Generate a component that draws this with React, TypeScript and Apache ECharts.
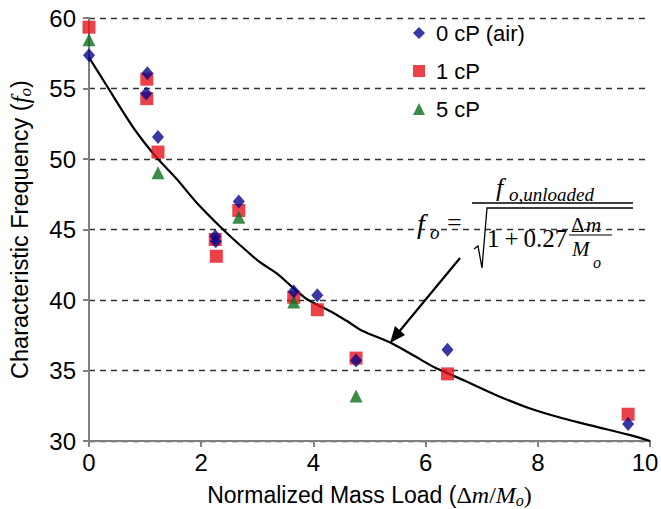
import React, { useEffect, useRef } from "react";
import * as echarts from "echarts";

const xTicks = [0, 2, 4, 6, 8, 10];
const yTicks = [30, 35, 40, 45, 50, 55, 60];

const air0cP: [number, number][] = [
  [0, 57.36], [1.04, 56.08], [1.02, 54.64], [1.23, 51.56], [2.25, 44.52], [2.26, 44.17],
  [2.67, 46.99], [3.65, 40.61], [4.07, 40.33], [4.76, 35.71], [6.39, 36.47], [9.61, 31.21],
];
const water1cP: [number, number][] = [
  [0, 59.35], [1.03, 55.66], [1.03, 54.28], [1.23, 50.49], [2.25, 44.29], [2.27, 43.1],
  [2.67, 46.35], [3.65, 40.19], [4.07, 39.31], [4.76, 35.88], [6.39, 34.76], [9.61, 31.9],
];
const fluid5cP: [number, number][] = [
  [0, 58.45], [1.23, 49.03], [2.67, 45.87], [3.65, 39.86], [4.76, 33.2],
];
const fitCurve: [number, number][] = [
  [0, 57.2], [0.3, 55.3], [0.76, 52.4], [1.0, 51.1], [1.23, 50.0], [1.56, 48.6],
  [1.92, 46.9], [2.39, 45.0], [2.69, 43.9], [3.04, 42.7], [3.34, 41.9], [3.63, 40.9],
  [3.87, 40.1], [4.05, 39.7], [4.35, 39.1], [4.64, 38.4], [4.88, 37.8], [5.36, 37.0],
  [5.77, 36.1], [6.19, 35.16], [6.66, 34.34], [7.25, 33.27], [7.85, 32.32], [8.44, 31.61],
  [9.03, 31.02], [9.63, 30.43], [10, 30.0],
];

const SANS = "'Liberation Sans', Arial, sans-serif";
const SERIF = "'Liberation Serif', 'Times New Roman', serif";

export default function App() {
  const ref = useRef<HTMLDivElement>(null);
  useEffect(() => {
    if (!ref.current) return;
    const chart = echarts.init(ref.current, undefined, { renderer: "svg" });
    const eqText = (x: number, y: number, text: string, size: number, italic = true) => ({
      type: "text",
      x,
      y,
      style: {
        text,
        fontSize: size,
        fontFamily: SERIF,
        fontStyle: italic ? "italic" : "normal",
        fill: "#000",
        verticalAlign: "middle",
      },
      z: 100,
    });
    chart.setOption({
      animation: false,
      backgroundColor: "#fff",
      grid: { left: 89, right: 11, top: 18, bottom: 68, containLabel: false, outerBoundsMode: "none" },
      legend: {
        orient: "vertical",
        left: 408,
        top: 17,
        itemWidth: 12,
        itemHeight: 12,
        itemGap: 16,
        data: ["0 cP (air)", "1 cP", "5 cP"],
        textStyle: { fontSize: 22, fontFamily: SANS, color: "#000", padding: [0, 0, 0, 6] },
      },
      xAxis: {
        type: "value",
        min: 0,
        max: 10,
        interval: 2,
        name: "{t|Normalized Mass Load (}{d|Δ}{i|m}{d|/}{i|M}{s|o}{d|)}",
        nameLocation: "middle",
        nameGap: 40,
        nameTextStyle: {
          rich: {
            t: { fontSize: 23, fontFamily: SANS, color: "#000" },
            d: { fontSize: 24, fontFamily: SERIF, color: "#000" },
            i: { fontSize: 24, fontFamily: SERIF, fontStyle: "italic", color: "#000" },
            s: { fontSize: 16, fontFamily: SERIF, fontStyle: "italic", color: "#000", padding: [11, 0, 0, 0] },
          },
        },
        axisLine: { lineStyle: { color: "#808080", width: 2 } },
        axisTick: { show: true, length: 6, lineStyle: { color: "#808080", width: 2 } },
        axisLabel: {
          fontSize: 24,
          fontFamily: SANS,
          color: "#000",
          margin: 9,
          customValues: xTicks,
          formatter: (v: number) => (v === 10 ? "{r|10}" : String(v)),
          rich: {
            r: { fontSize: 24, fontFamily: SANS, color: "#000", padding: [0, 10, 0, 0] },
          },
        },
        splitLine: { show: false },
      },
      yAxis: {
        type: "value",
        min: 30,
        max: 60,
        interval: 5,
        name: "{t|Characteristic Frequency (}{i|f}{s|o}{t|)}",
        nameLocation: "middle",
        nameGap: 55,
        nameTextStyle: {
          rich: {
            t: { fontSize: 23.5, fontFamily: SANS, color: "#000" },
            i: { fontSize: 25, fontFamily: SERIF, fontStyle: "italic", color: "#000" },
            s: { fontSize: 17, fontFamily: SERIF, fontStyle: "italic", color: "#000", padding: [11, 0, 0, 0] },
          },
        },
        axisLine: { show: true, lineStyle: { color: "#808080", width: 2 } },
        axisTick: { show: true, length: 6, lineStyle: { color: "#808080", width: 2 } },
        axisLabel: {
          fontSize: 24,
          fontFamily: SANS,
          color: "#000",
          margin: 13,
          customValues: yTicks,
        },
        splitLine: { show: true, lineStyle: { color: "#333", width: 1.3, type: [6, 5] } },
      },
      series: [
        {
          name: "fit",
          type: "line",
          data: fitCurve,
          showSymbol: false,
          symbol: "none",
          smooth: 0.3,
          lineStyle: { color: "#000", width: 2.2 },
          z: 2,
          silent: true,
        },
        {
          name: "1 cP",
          type: "scatter",
          data: water1cP,
          symbol: "rect",
          symbolSize: 13,
          itemStyle: { color: "#e6121c" },
          z: 3,
        },
        {
          name: "5 cP",
          type: "scatter",
          data: fluid5cP,
          symbol: "triangle",
          symbolSize: 13,
          itemStyle: { color: "#0c6e1c" },
          z: 4,
        },
        {
          name: "0 cP (air)",
          type: "scatter",
          data: air0cP,
          symbol: "diamond",
          symbolSize: [12, 14],
          itemStyle: { color: "#06068f" },
          z: 5,
        },
      ],
      graphic: [
        eqText(417, 223, "f", 28),
        eqText(430, 232, "o", 19),
        eqText(447, 222, "=", 26, false),
        eqText(496, 187, "f", 26),
        eqText(509, 194, "o,unloaded", 19),
        { type: "line", shape: { x1: 472, y1: 203, x2: 633, y2: 203 }, style: { stroke: "#000", lineWidth: 1.3 }, z: 100 },
        {
          type: "polyline",
          shape: { points: [[474, 249], [478, 246], [482, 268], [487, 208], [633, 208]] },
          style: { stroke: "#000", lineWidth: 1.3, fill: "none" },
          z: 100,
        },
        eqText(487, 238, "1\u2009+\u20090.27", 25, false),
        eqText(571, 225, "Δ", 21, false),
        eqText(586, 225, "m", 21),
        { type: "line", shape: { x1: 569, y1: 235, x2: 612, y2: 235 }, style: { stroke: "#000", lineWidth: 1.2 }, z: 100 },
        eqText(572, 249, "M", 21),
        eqText(593, 262, "o", 16),
        { type: "line", shape: { x1: 460, y1: 258, x2: 398, y2: 333 }, style: { stroke: "#000", lineWidth: 2.2 }, z: 100 },
        {
          type: "polygon",
          shape: { points: [[390, 343], [405, 335], [395, 326]] },
          style: { fill: "#000" },
          z: 100,
        },
      ],
    });
    return () => chart.dispose();
  }, []);
  return (
    <div
      ref={ref}
      style={{ position: "absolute", left: 0, top: 0, width: 661, height: 509 }}
    />
  );
}
